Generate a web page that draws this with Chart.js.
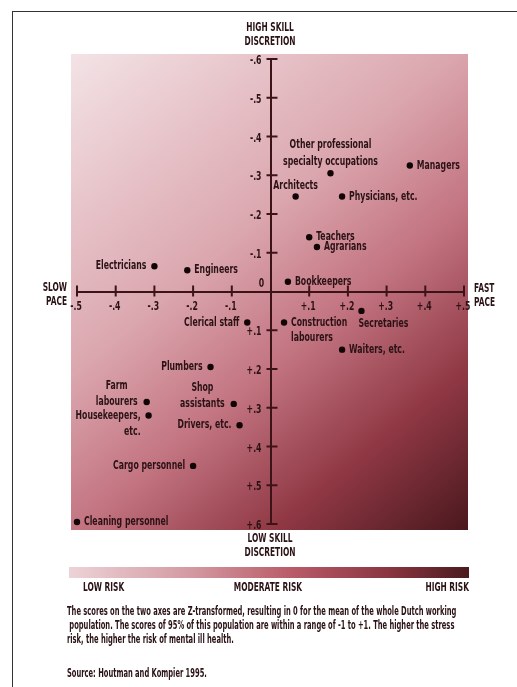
<!DOCTYPE html>
<html lang="en">
<head>
<meta charset="UTF-8">
<title>Stress risk by occupation</title>
<script src="https://cdn.jsdelivr.net/npm/chart.js"></script>
<style>
  body { margin: 0; background: #fff; }
  #wrap { position: relative; width: 517px; height: 687px; overflow: hidden;
          font-family: "DejaVu Sans Condensed", "DejaVu Sans", sans-serif;
          font-weight: bold; color: #2a1215; }
  #riskChart { position: absolute; left: 0; top: 0; }
  .frame { position: absolute; left: 12px; top: 11px; width: 520px; height: 700px;
           border-top: 1px solid #333; border-left: 1px solid #333; }
  .lbl { position: absolute; font-size: 11.5px; line-height: 14px; white-space: nowrap;
         transform: scaleX(0.72); }
  .c { text-align: center; transform-origin: center top; }
  .l { transform-origin: left top; }
  .r { text-align: right; transform-origin: right top; }
  .bar { position: absolute; left: 69px; top: 567px; width: 400px; height: 11px;
         background: linear-gradient(to right, #ecd3d7 0%, #d49aa3 30%, #b95d69 55%, #8a3540 80%, #4a1a1f 100%); }
  .caption { position: absolute; left: 67px; top: 604px; font-size: 11.5px; line-height: 14px;
             white-space: pre; transform: scaleX(0.65); transform-origin: left top; }
</style>
</head>
<body>
<div id="wrap">
  <div class="frame"></div>
  <canvas id="riskChart" width="517" height="687"></canvas>
  <div class="lbl c" style="left:220px; top:20px; width:100px;">HIGH SKILL<br>DISCRETION</div>
  <div class="lbl c" style="left:220px; top:531px; width:100px;">LOW SKILL<br>DISCRETION</div>
  <div class="lbl r" style="left:17px; top:280px; width:50px;">SLOW<br>PACE</div>
  <div class="lbl l" style="left:474px; top:281px;">FAST<br>PACE</div>
  <div class="bar"></div>
  <div class="lbl l" style="left:83px; top:580px;">LOW RISK</div>
  <div class="lbl c" style="left:218px; top:580px; width:100px;">MODERATE RISK</div>
  <div class="lbl r" style="left:369px; top:580px; width:100px;">HIGH RISK</div>
  <div class="caption">The scores on the two axes are Z-transformed, resulting in 0 for the mean of the whole Dutch working
 population. The scores of 95% of this population are within a range of -1 to +1. The higher the stress
risk, the higher the risk of mental ill health.</div>
  <div class="caption" style="top:666px;">Source: Houtman and Kompier 1995.</div>
</div>
<script>
// occupations, pace (x: slow - / fast +), skill (y: high - / low +)
const occupations = ['Managers', 'Other professional\nspecialty occupations', 'Architects', 'Physicians, etc.',
  'Teachers', 'Agrarians', 'Electricians', 'Engineers', 'Bookkeepers', 'Clerical staff',
  'Construction\nlabourers', 'Secretaries', 'Waiters, etc.', 'Plumbers', 'Farm\nlabourers',
  'Shop\nassistants', 'Housekeepers,\netc.', 'Drivers, etc.', 'Cargo personnel', 'Cleaning personnel'];
const pace = [0.36, 0.155, 0.065, 0.185, 0.10, 0.12, -0.30, -0.215, 0.045, -0.06,
  0.035, 0.235, 0.185, -0.155, -0.32, -0.095, -0.315, -0.08, -0.20, -0.50];
const skill = [-0.325, -0.305, -0.245, -0.245, -0.14, -0.115, -0.065, -0.055, -0.025, 0.08,
  0.08, 0.05, 0.15, 0.195, 0.285, 0.29, 0.32, 0.345, 0.45, 0.595];
const paceRange = [-0.5, 0.5];
const skillRange = [-0.6, 0.6];

// where each name sits next to its dot
const labelSide = ['r', 'a', 'a', 'r', 'r', 'r', 'l', 'r', 'r', 'l',
  'r', 'b', 'r', 'l', 'lc', 'lc', 'lr', 'l', 'l', 'r'];

const FONT = '"DejaVu Sans Condensed", "DejaVu Sans", sans-serif';
const INK = '#2a1215';
const AXIS = '#3c1418';
const SQUEEZE = 0.72;   // the original type is a very condensed face

function tickText(v) {
  const n = Math.round(Math.abs(v) * 10);
  if (n === 0) return '';
  return (v < 0 ? '-' : '+') + '.' + n;
}

// draw text squeezed horizontally around its anchor
function narrowText(ctx, s, x, y, align) {
  ctx.save();
  ctx.translate(x, y);
  ctx.scale(SQUEEZE, 1);
  ctx.textAlign = align;
  ctx.fillText(s, 0, 0);
  ctx.restore();
}

// gradient square behind the axes
const backdrop = {
  id: 'backdrop',
  beforeDraw(chart) {
    const {ctx, chartArea: a} = chart;
    const l = a.left - 6, t = a.top - 5, r = a.right + 4, b = a.bottom + 6;
    const g = ctx.createLinearGradient(l, t, r, b);
    g.addColorStop(0, '#f3e3e6');
    g.addColorStop(0.4, '#dba6ae');
    g.addColorStop(0.6, '#c27380');
    g.addColorStop(0.8, '#8f3844');
    g.addColorStop(1, '#4a181d');
    ctx.save();
    ctx.fillStyle = g;
    ctx.fillRect(l, t, r - l, b - t);
    ctx.restore();
  }
};

// crossing tick marks, tick labels and the 0 at the origin
const crossAxes = {
  id: 'crossAxes',
  afterDraw(chart) {
    const {ctx, scales: {x, y}} = chart;
    const x0 = x.getPixelForValue(0), y0 = y.getPixelForValue(0);
    ctx.save();
    ctx.strokeStyle = AXIS;
    ctx.lineWidth = 2;
    ctx.beginPath();
    x.ticks.forEach(t => {
      if (Math.abs(t.value) < 1e-6) return;
      const px = x.getPixelForValue(t.value);
      ctx.moveTo(px, y0 - 6); ctx.lineTo(px, y0 + 5);
    });
    y.ticks.forEach(t => {
      if (Math.abs(t.value) < 1e-6) return;
      const py = y.getPixelForValue(t.value);
      ctx.moveTo(x0 - 4, py); ctx.lineTo(x0 + 7, py);
    });
    ctx.stroke();
    ctx.fillStyle = INK;
    ctx.font = 'bold 12px ' + FONT;
    ctx.textBaseline = 'middle';
    x.ticks.forEach(t => {
      const s = tickText(t.value);
      if (s) narrowText(ctx, s, x.getPixelForValue(t.value) - 1, y0 + 15, 'center');
    });
    y.ticks.forEach(t => {
      const s = tickText(t.value);
      if (s) narrowText(ctx, s, x0 - 9, y.getPixelForValue(t.value) + 2, 'right');
    });
    narrowText(ctx, '0', x0 - 9, y0 - 8, 'center');
    ctx.restore();
  }
};

const pointLabels = {
  id: 'pointLabels',
  afterDatasetsDraw(chart) {
    const ctx = chart.ctx;
    const meta = chart.getDatasetMeta(0);
    ctx.save();
    ctx.fillStyle = INK;
    ctx.font = 'bold 12px ' + FONT;
    ctx.textBaseline = 'middle';
    meta.data.forEach((pt, i) => {
      const lines = occupations[i].split('\n');
      const side = labelSide[i];
      const n = lines.length;
      lines.forEach((line, k) => {
        let tx = pt.x, ty = pt.y, align = 'left';
        if (side === 'r') {
          tx += 7; ty += k * 15;
        } else if (side === 'l' || side === 'lr') {
          align = 'right'; tx -= 8; ty += k * 16;
        } else if (side === 'a') {
          align = 'center'; ty -= 11 + (n - 1 - k) * 17;
        } else if (side === 'b') {
          tx -= 3; ty += 13 + k * 15;
        } else if (side === 'lc') {
          const w = Math.max(...lines.map(s => ctx.measureText(s).width)) * SQUEEZE;
          align = 'center'; tx -= 9 + w / 2; ty -= (n - 1 - k) * 16;
        }
        narrowText(ctx, line, tx, ty, align);
      });
    });
    ctx.restore();
  }
};

new Chart(document.getElementById('riskChart'), {
  type: 'scatter',
  data: {
    datasets: [{
      data: pace.map((p, i) => ({x: p, y: skill[i]})),
      pointRadius: 3.2,
      pointBackgroundColor: '#120506',
      pointBorderWidth: 0,
      clip: false
    }]
  },
  options: {
    responsive: false,
    animation: false,
    layout: {padding: {left: 77, right: 53, top: 59, bottom: 163}},
    plugins: {legend: {display: false}, tooltip: {enabled: false}},
    scales: {
      x: {
        type: 'linear',
        min: paceRange[0], max: paceRange[1],
        position: {y: 0},
        grid: {display: false, drawTicks: false},
        border: {display: true, color: AXIS, width: 2},
        ticks: {stepSize: 0.1, display: false}
      },
      y: {
        type: 'linear',
        min: skillRange[0], max: skillRange[1],
        reverse: true,
        position: {x: 0},
        grid: {display: false, drawTicks: false},
        border: {display: true, color: AXIS, width: 2},
        ticks: {stepSize: 0.1, display: false}
      }
    }
  },
  plugins: [backdrop, crossAxes, pointLabels]
});
</script>
</body>
</html>
